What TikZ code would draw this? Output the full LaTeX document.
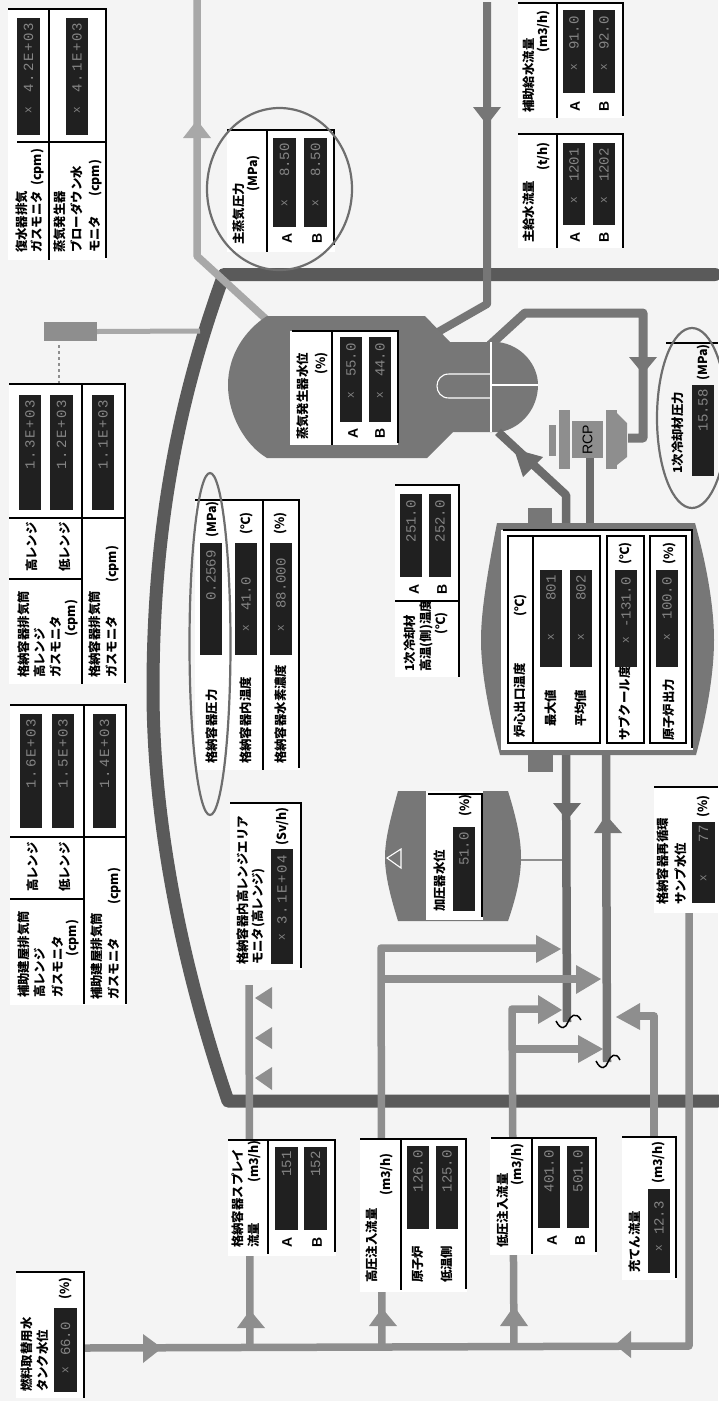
\documentclass[tikz,border=0pt]{standalone}
\usepackage{fontspec}
\newfontfamily\jpf{Noto Sans CJK JP}
\newfontfamily\valf{Liberation Mono}
\newfontfamily\valw[LetterSpace=12]{Liberation Mono}
\newfontfamily\abf{Liberation Sans}
\definecolor{paper}{HTML}{F4F4F4}
\definecolor{wallc}{HTML}{5A5A5A}
\definecolor{lightp}{HTML}{A8A8A8}
\definecolor{midp}{HTML}{8E8E8E}
\definecolor{darkp}{HTML}{767676}
\definecolor{hotp}{HTML}{6C6C6C}
\definecolor{vessel}{HTML}{777777}
\definecolor{dbox}{HTML}{202020}
\definecolor{dtxt}{HTML}{858585}
\definecolor{ringc}{HTML}{6E6E6E}
\tikzset{
  wall/.style={line width=13pt,draw=wallc,line cap=round,line join=round},
  spipe/.style={line width=7.5pt,draw=lightp,line join=round},
  mpipe/.style={line width=7.5pt,draw=midp,line join=round},
  fpipe/.style={line width=8pt,draw=darkp,line join=round},
  hpipe/.style={line width=8.5pt,draw=hotp,line join=round},
  tbl/.style={line width=1.4pt,draw=black},
  ring/.style={line width=2.2pt,draw=ringc},
  wline/.style={line width=1.1pt,draw=white},
  sq/.style={line width=1.5pt,draw=black},
  valbox/.style={fill=dbox,draw=none,inner sep=0pt,outer sep=0pt},
  valtxt/.style={rotate=90,inner sep=0pt,text=dtxt,font=\valf\fontsize{14}{14}\selectfont},
  valmark/.style={rotate=90,inner sep=0pt,text=dtxt,font=\valf\fontsize{11}{11}\selectfont},
  lab/.style={rotate=90,anchor=west,inner sep=0pt,text height=9.5pt,text depth=1.5pt,font=\jpf\bfseries\fontsize{12.4}{12.4}\selectfont},
  abl/.style={rotate=90,inner sep=0pt,font=\abf\bfseries\fontsize{14}{14}\selectfont},
}
% [offset]{name}{x1}{y1}{x2}{y2}{text}{mark y}
\newcommand\vb[8][5]{%
  \pgfmathsetmacro\vcx{(#3+#5)/2}\pgfmathsetmacro\vcy{(#4+#6)/2}%
  \node[valbox,minimum width={(#5-#3)*1pt},minimum height={(#6-#4)*1pt}] (#2) at (\vcx,\vcy) {};
  \node[valtxt,anchor=east] (#2t) at (\vcx,#4+#1) {#7};
  \if\relax\detokenize{#8}\relax\else\node[valmark] (#2m) at (\vcx,#8) {x};\fi
}
\newcommand\lab[4]{\node[lab] (#1) at (#2,#3) {#4};}
\newcommand\abl[4]{\node[abl] (#1) at (#2,#3) {#4};}
\newcommand\tri[7]{\fill[#1] (#2,#3) -- (#4,#5) -- (#6,#7) -- cycle;}
\begin{document}
\begin{tikzpicture}[x=1pt,y=-1pt]
\path[use as bounding box,fill=paper] (0,0) rectangle (718,1401);
% ---- containment wall
\coordinate (wA) at (715,274.5);
\coordinate (wB) at (224,274.5);
\coordinate (wC) at (153,690);
\coordinate (wD) at (228,1101);
\coordinate (wE) at (718,1101);
\draw[wall] (wA) -- (wB) .. controls (178,400) and (153,530) .. (wC)
  .. controls (153,840) and (190,990) .. (wD) -- (wE);
% ---- monitor
\node[fill=midp,inner sep=0pt,minimum width=53pt,minimum height=19pt] (stack) at (70.5,331.5) {};
\coordinate (stackEnd) at (200,331);
\draw[line width=5pt,draw=lightp] (stack.east) -- (stackEnd);
\coordinate (dashA) at (59,345);
\coordinate (dashB) at (59,384);
\draw[dashed,line width=1.2pt,draw=midp] (dashA) -- (dashB);
% ---- main steam
\coordinate (msA) at (197,0);
\coordinate (msB) at (197,256);
\coordinate (msC) at (267,320);
\draw[spipe] (msA) -- (msB) -- (msC);
\tri{lightp}{197}{120}{183}{138}{211}{138}
% ---- feedwater
\coordinate (fwA) at (487,2);
\coordinate (fwB) at (487,304);
\coordinate (fwC) at (438,332);
\draw[fpipe] (fwA) -- (fwB) -- (fwC);
\tri{darkp}{487}{125}{473}{107}{501}{107}
% ---- SG outlet loop
\coordinate (loA) at (490,345);
\coordinate (loB) at (525,313);
\coordinate (loC) at (643,313);
\coordinate (loD) at (643,438);
\coordinate (loE) at (628,438);
\draw[fpipe,line width=9pt] (loA) -- (loB) -- (loC) -- (loD) -- (loE);
\tri{darkp}{643}{374}{629}{357}{657}{357}
% ---- steam generator
\fill[vessel] (267,316) -- (425,316) -- (450,342) -- (498,342)
  .. controls (522,345) and (538,365) .. (538,385)
  .. controls (538,408) and (522,428) .. (500,432)
  -- (453,432) -- (427,458) -- (267,458)
  .. controls (245,445) and (228,415) .. (228,385)
  .. controls (228,355) and (245,330) .. (267,316) -- cycle;
\coordinate (sgD1) at (491,342);
\coordinate (sgD2) at (491,432);
\coordinate (sgH1) at (491,385);
\coordinate (sgH2) at (538,385);
\coordinate (sgU1) at (491,374);
\coordinate (sgU2) at (491,398);
\draw[wline] (sgD1) -- (sgD2);
\draw[wline] (sgH1) -- (sgH2);
\draw[wline] (sgU1) -- (449,374) .. controls (441,374) and (437,380) .. (437,386)
  .. controls (437,392) and (441,398) .. (449,398) -- (sgU2);
% ---- hot and cold legs to the core
\coordinate (hlA) at (566,524);
\coordinate (hlB) at (566,495);
\coordinate (hlC) at (498,432);
\draw[hpipe] (hlA) -- (hlB) -- (hlC);
\tri{hotp}{514}{449}{543}{457}{523}{477}
\coordinate (clA) at (590,524);
\coordinate (clB) at (590,458);
\draw[hpipe] (clA) -- (clB);
% ---- RCP
\fill[midp] (549,425) rectangle (556,456);
\fill[midp] (559,410) rectangle (570,469);
\fill[midp] (606,410) rectangle (617,469);
\fill[midp] (617,413) -- (627,423) -- (627,457) -- (617,465) -- cycle;
\node[fill=midp,inner sep=0pt,minimum width=31pt,minimum height=37pt] (rcpb) at (587.5,439.5) {};
\node[rotate=90,inner sep=0pt,font=\abf\fontsize{14}{14}\selectfont] (rcpt) at (587.5,439.5) {RCP};
% ---- core vessel
\fill[vessel] (528,508) rectangle (552,524);
\fill[vessel] (528,754) rectangle (553,772);
\fill[vessel] (497,523) -- (695,523) .. controls (708,570) and (714,610) .. (714,640)
  .. controls (714,670) and (708,710) .. (696,755) -- (500,755)
  .. controls (488,710) and (481,670) .. (481,640)
  .. controls (481,610) and (488,570) .. (497,523) -- cycle;
\fill[white] (501,530) rectangle (693,750);
\draw[tbl] (503,530) -- (692,530) -- (692,748);
\draw[tbl] (508,536) rectangle (600,743);
\draw[tbl] (533,536) -- (533,743);
\draw[tbl] (607,536) rectangle (644,743);
\draw[tbl] (650,536) rectangle (686,743);
\lab{cT}{520}{738}{炉心出口温度}
\lab{cTu}{520}{617}{(℃)}
\lab{cM}{551}{727}{最大値}
\lab{cA}{581}{727}{平均値}
\lab{cS}{625}{741}{サブクール度}
\lab{cSu}{625}{565}{(℃)}
\lab{cP}{669}{741}{原子炉出力}
\lab{cPu}{669}{565}{(\%)}
\vb[5]{vM}{540}{570}{562}{667}{801}{637}
\vb[5]{vA}{570}{570}{592}{667}{802}{637}
\vb[7]{vS}{615}{570}{637}{667}{-131.0}{640}
\vb[7]{vP}{656}{570}{678}{667}{100.0}{637}
% ---- primary legs below the core
\coordinate (hbA) at (566,755);
\coordinate (hbB) at (567,1022);
\draw[hpipe] (hbA) -- (hbB);
\tri{hotp}{567}{820}{553}{803}{581}{803}
\coordinate (cbA) at (606,755);
\coordinate (cbB) at (607,1062);
\draw[hpipe,draw=darkp] (cbA) -- (cbB);
\tri{darkp}{606}{815}{594}{833}{622}{833}
\draw[sq] (556,1021) .. controls (561,1031) and (566,1028) .. (568,1022) .. controls (570,1016) and (576,1011) .. (581,1020);
\draw[sq] (596,1061) .. controls (601,1071) and (606,1068) .. (608,1062) .. controls (610,1056) and (616,1051) .. (620,1060);
% ---- pressurizer
\coordinate (przA) at (521,860);
\coordinate (przB) at (562,860);
\draw[line width=2pt,draw=midp] (przA) -- (przB);
\fill[vessel] (398,791) -- (508,791) .. controls (517,820) and (521,840) .. (521,857)
  .. controls (521,875) and (517,895) .. (508,921) -- (398,921)
  .. controls (390,895) and (385,875) .. (385,857)
  .. controls (385,840) and (390,820) .. (398,791) -- cycle;
\draw[line width=1.1pt,draw=white] (387,858) -- (401,849) -- (401,868) -- cycle;
\fill[white] (426,791) rectangle (483,920);
\draw[tbl] (428,794) -- (482,794) -- (482,917);
\lab{przL}{440}{912}{加圧器水位}
\lab{przU}{465}{817}{(\%)}
\vb[5]{vPr}{453}{827}{475}{911}{51.0}{}
% ---- injection lines
\coordinate (mA) at (85,1348);
\coordinate (mB) at (689,1346);
\coordinate (mC) at (689,912);
\draw[mpipe] (mA) -- (mB) -- (mC);
\tri{midp}{162}{1348}{143}{1334}{143}{1363}
\tri{midp}{615}{1345}{631}{1331}{631}{1358}
% spray
\coordinate (spA) at (250,1347);
\coordinate (spB) at (249,985);
\draw[mpipe] (spA) -- (spB);
\tri{midp}{250}{1310}{237}{1328}{265}{1328}
\tri{midp}{255}{998}{272}{987}{272}{1009}
\tri{midp}{255}{1038}{272}{1027}{272}{1049}
\tri{midp}{255}{1078}{272}{1067}{272}{1090}
% high pressure
\coordinate (hiA) at (382,1347);
\coordinate (hiB) at (381,948);
\coordinate (hiC) at (540,948);
\coordinate (hiD) at (381,979);
\coordinate (hiE) at (578,979);
\draw[mpipe] (hiA) -- (hiB) -- (hiC);
\draw[mpipe] (hiD) -- (hiE);
\tri{midp}{382}{1308}{369}{1326}{397}{1326}
\tri{midp}{561}{949}{536}{935}{536}{963}
\tri{midp}{601}{979}{576}{965}{576}{994}
% low pressure
\coordinate (loiA) at (514,1347);
\coordinate (loiB) at (512,1009);
\coordinate (loiC) at (540,1009);
\coordinate (loiD) at (512,1049);
\coordinate (loiE) at (580,1049);
\draw[mpipe] (loiA) -- (loiB) -- (loiC);
\draw[mpipe] (loiD) -- (loiE);
\tri{midp}{514}{1306}{500}{1326}{528}{1326}
\tri{midp}{562}{1010}{538}{995}{538}{1024}
\tri{midp}{603}{1049}{578}{1035}{578}{1063}
% charging
\coordinate (chA) at (654,1137);
\coordinate (chB) at (654,1016);
\coordinate (chC) at (638,1016);
\draw[mpipe] (chA) -- (chB) -- (chC);
\tri{midp}{616}{1017}{640}{1003}{640}{1030}
% ---- panels
% condenser / blowdown
\fill[white] (8,9) rectangle (107,260);
\draw[tbl] (8,9) -- (106,9) -- (106,258);
\draw[tbl] (49,9) -- (49,260);
\draw[tbl] (17,142) -- (106,142);
\vb[5]{p1a}{17}{18}{40}{135}{\valw 4.2E+03}{110}
\vb[5]{p1b}{66}{18}{88}{135}{\valw 4.1E+03}{110}
\lab{p1l1}{23}{253}{復水器排気}
\lab{p1l2}{37}{253}{ガスモニタ}
\lab{p1l3}{37}{186}{(cpm)}
\lab{p1l4}{60}{253}{蒸気発生器}
\lab{p1l5}{77}{253}{ブローダウン水}
\lab{p1l6}{95}{253}{モニタ}
\lab{p1l7}{95}{197}{(cpm)}
% main steam pressure
\fill[white] (227,130) rectangle (335,252);
\draw[tbl] (227,130) -- (334,130) -- (334,245);
\draw[tbl] (267,130) -- (267,252);
\vb[5]{p2a}{273}{138}{296}{227}{8.50}{203}
\vb[5]{p2b}{304}{138}{327}{227}{8.50}{203}
\abl{p2A}{287}{238}{A}
\abl{p2B}{317}{238}{B}
\lab{p2l1}{239}{245}{主蒸気圧力}
\lab{p2l2}{253}{192}{(MPa)}
\draw[ring] (279.5,189) ellipse[x radius=72.5pt,y radius=81pt];
% containment exhaust
\fill[white] (9,384) rectangle (126,684);
\draw[tbl] (9,384) -- (125,384) -- (125,683);
\draw[tbl] (82,384) -- (82,684);
\draw[tbl] (9,518) -- (125,518);
\draw[tbl] (9,579) -- (82,579);
\vb[5]{p3a}{19}{395}{41}{510}{\valw 1.3E+03}{}
\vb[5]{p3b}{50}{395}{73}{510}{\valw 1.2E+03}{}
\vb[5]{p3c}{92}{395}{114}{510}{\valw 1.1E+03}{}
\lab{p3r1}{32}{572}{高レンジ}
\lab{p3r2}{65}{572}{低レンジ}
\lab{p3l1}{24}{678}{格納容器排気筒}
\lab{p3l2}{41}{678}{高レンジ}
\lab{p3l3}{56}{678}{ガスモニタ}
\lab{p3l4}{71}{637}{(cpm)}
\lab{p3l5}{95}{678}{格納容器排気筒}
\lab{p3l6}{112}{678}{ガスモニタ}
\lab{p3l7}{112}{583}{(cpm)}
% aux building exhaust
\fill[white] (10,705) rectangle (127,1005);
\draw[tbl] (10,705) -- (126,705) -- (126,1004);
\draw[tbl] (84,705) -- (84,1004);
\draw[tbl] (10,837) -- (126,837);
\draw[tbl] (10,899) -- (84,899);
\vb[5]{p4a}{20}{714}{42}{828}{\valw 1.6E+03}{}
\vb[5]{p4b}{52}{714}{74}{828}{\valw 1.5E+03}{}
\vb[5]{p4c}{93}{714}{116}{828}{\valw 1.4E+03}{}
\lab{p4r1}{33}{892}{高レンジ}
\lab{p4r2}{65}{892}{低レンジ}
\lab{p4l1}{24}{998}{補助建屋排気筒}
\lab{p4l2}{41}{998}{高レンジ}
\lab{p4l3}{58}{998}{ガスモニタ}
\lab{p4l4}{72}{957}{(cpm)}
\lab{p4l5}{97}{1000}{補助建屋排気筒}
\lab{p4l6}{114}{1000}{ガスモニタ}
\lab{p4l7}{114}{905}{(cpm)}
% containment pressure etc
\fill[white] (195,500) rectangle (300,770);
\draw[tbl] (195,500) -- (299,500) -- (299,768);
\draw[tbl] (263,500) -- (263,770);
\vb[7]{p5a}{200}{543}{222}{655}{0.2569}{}
\vb[34]{p5b}{235}{543}{257}{655}{41.0}{628}
\vb[15]{p5c}{270}{543}{292}{655}{88.000}{628}
\lab{p5u1}{212}{538}{(MPa)}
\lab{p5u2}{246}{535}{(℃)}
\lab{p5u3}{280}{535}{(\%)}
\lab{p5l1}{212}{764}{格納容器圧力}
\lab{p5l2}{246}{764}{格納容器内温度}
\lab{p5l3}{281}{764}{格納容器水素濃度}
\draw[ring] (210,644) ellipse[x radius=20.5pt,y radius=171pt];
% high-range area monitor
\fill[white] (230,803) rectangle (302,970);
\draw[tbl] (230,803) -- (301,803) -- (301,968);
\vb[6]{p6a}{271}{849}{293}{964}{\valw 3.1E+04}{937}
\lab{p6u}{282}{846}{(Sv/h)}
\lab{p6l1}{243}{965}{格納容器内高レンジエリア}
\lab{p6l2}{258}{965}{モニタ(高レンジ)}
% spray
\fill[white] (228,1140) rectangle (336,1256);
\draw[tbl] (228,1140) -- (335,1140) -- (335,1252);
\draw[tbl] (268,1140) -- (268,1254);
\vb[4]{p7a}{275}{1147}{298}{1230}{151}{}
\vb[4]{p7b}{304}{1147}{327}{1230}{152}{}
\abl{p7A}{287}{1242}{A}
\abl{p7B}{317}{1242}{B}
\lab{p7l1}{238}{1248}{格納容器スプレイ}
\lab{p7l2}{254}{1248}{流量}
\lab{p7l3}{254}{1183}{(m3/h)}
% RWST
\fill[white] (16,1272) rectangle (85,1398);
\draw[tbl] (16,1272) -- (84,1272) -- (84,1398);
\vb[14]{p8a}{54}{1308}{77}{1392}{66.0}{1370}
\lab{p8u}{65}{1300}{(\%)}
\lab{p8l1}{27}{1392}{燃料取替用水}
\lab{p8l2}{43}{1392}{タンク水位}
% high pressure injection
\fill[white] (360,1139) rectangle (467,1292);
\draw[tbl] (360,1139) -- (466,1139) -- (466,1289);
\draw[tbl] (401,1139) -- (401,1290);
\vb[4]{p9a}{407}{1146}{429}{1229}{126.0}{}
\vb[4]{p9b}{436}{1146}{458}{1229}{125.0}{}
\lab{p9r1}{418}{1283}{原子炉}
\lab{p9r2}{447}{1283}{低温側}
\lab{p9l1}{372}{1283}{高圧注入流量}
\lab{p9l2}{386}{1196}{(m3/h)}
% low pressure injection
\fill[white] (490,1138) rectangle (597,1255);
\draw[tbl] (491,1138) -- (596,1138) -- (596,1252);
\draw[tbl] (532,1138) -- (532,1254);
\vb[4]{p10a}{538}{1146}{560}{1228}{401.0}{}
\vb[4]{p10b}{567}{1146}{589}{1228}{501.0}{}
\abl{p10A}{552}{1240}{A}
\abl{p10B}{580}{1240}{B}
\lab{p10l1}{503}{1248}{低圧注入流量}
\lab{p10l2}{517}{1186}{(m3/h)}
% charging
\fill[white] (622,1137) rectangle (677,1280);
\draw[tbl] (622,1137) -- (676,1137) -- (676,1278);
\vb[12]{p11a}{648}{1189}{670}{1273}{12.3}{1248}
\lab{p11u}{658}{1184}{(m3/h)}
\lab{p11l}{635}{1273}{充てん流量}
% main feedwater
\fill[white] (518,134) rectangle (624,248);
\draw[tbl] (518,134) -- (623,134) -- (623,248);
\draw[tbl] (557,134) -- (557,248);
\vb[5]{p12a}{563}{143}{585}{225}{1201}{200}
\vb[5]{p12b}{593}{143}{615}{225}{1202}{200}
\abl{p12A}{575}{237}{A}
\abl{p12B}{604}{237}{B}
\lab{p12l}{529}{243}{主給水流量}
\lab{p12u}{543}{171}{(t/h)}
% aux feedwater
\fill[white] (518,3) rectangle (624,118);
\draw[tbl] (518,3) -- (623,3) -- (623,116);
\draw[tbl] (557,3) -- (557,118);
\vb[6]{p13a}{563}{10}{585}{93}{91.0}{67}
\vb[6]{p13b}{593}{10}{615}{93}{92.0}{67}
\abl{p13A}{575}{106}{A}
\abl{p13B}{604}{106}{B}
\lab{p13l}{529}{113}{補助給水流量}
\lab{p13u}{543}{53}{(m3/h)}
% steam generator level
\fill[white] (290,331) rectangle (398,445);
\draw[tbl] (292,331) -- (398,331) -- (398,443);
\draw[tbl] (332,331) -- (332,445);
\vb[6]{p14a}{340}{337}{362}{422}{55.0}{395}
\vb[6]{p14b}{369}{337}{391}{422}{44.0}{395}
\abl{p14A}{353}{433}{A}
\abl{p14B}{380}{433}{B}
\lab{p14l}{303}{440}{蒸気発生器水位}
\lab{p14u}{321}{375}{(\%)}
% primary temperature
\fill[white] (395,485) rectangle (460,677);
\draw[tbl] (395,485) -- (459,485) -- (459,677);
\draw[tbl] (395,601) -- (459,601);
\vb[6]{p15a}{400}{494}{422}{577}{251.0}{}
\vb[6]{p15b}{429}{494}{451}{577}{252.0}{}
\abl{p15A}{414}{589}{A}
\abl{p15B}{442}{589}{B}
\lab{p15l1}{410}{672}{1次冷却材}
\lab{p15l2}{426}{672}{高温(側)温度}
\lab{p15l3}{441}{635}{(℃)}
% primary pressure
\draw[tbl] (666,343) -- (718,343);
\vb[4]{p16a}{692}{385}{714}{476}{15.58}{}
\lab{p16l}{678}{474}{1次冷却材圧力}
\lab{p16u}{703}{381}{(MPa)}
\draw[ring] (692,418) ellipse[x radius=35pt,y radius=90pt];
% sump
\fill[white] (654,787) rectangle (718,913);
\draw[tbl] (654,787) -- (718,787);
\vb[3]{p17a}{692}{822}{715}{903}{77}{878}
\lab{p17l1}{663}{905}{格納容器再循環}
\lab{p17l2}{681}{905}{サンプ水位}
\lab{p17u}{703}{818}{(\%)}
\end{tikzpicture}
\end{document}
